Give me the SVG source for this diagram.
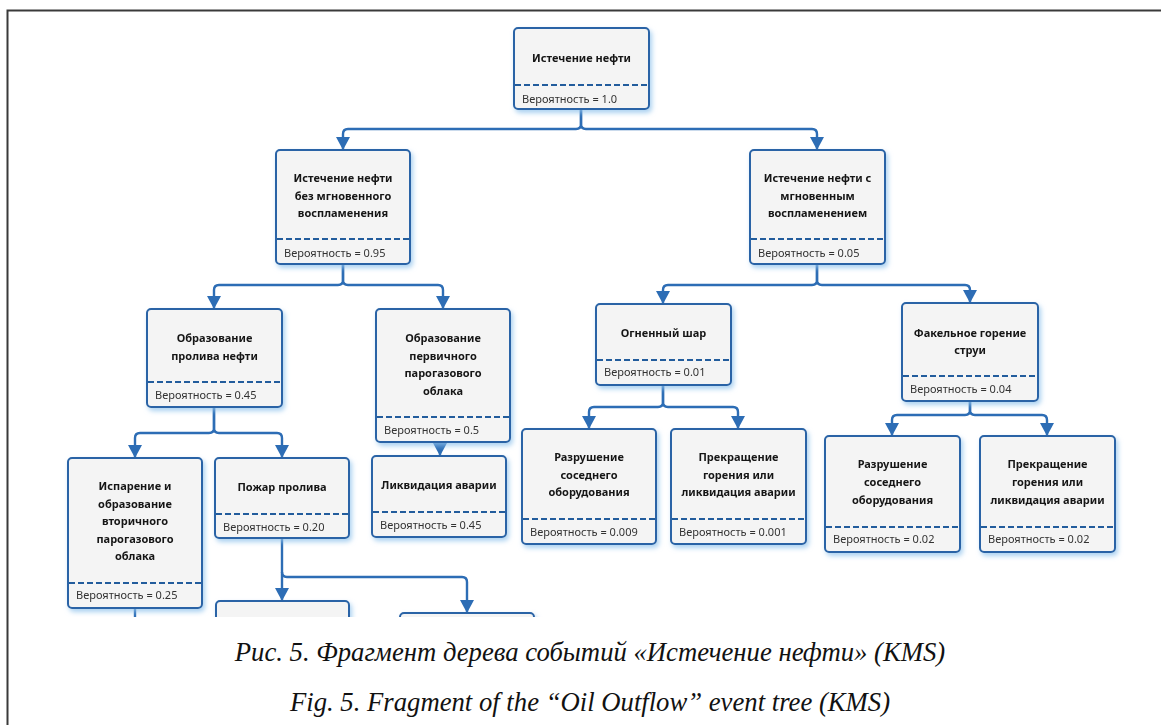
<svg xmlns="http://www.w3.org/2000/svg" width="1161" height="725" viewBox="0 0 1161 725">
<style>
.box{fill:#f4f4f4;stroke:#2a64a6;stroke-width:2}
.dash{stroke:#245c9c;stroke-width:1.8;stroke-dasharray:6 3;fill:none}
.t{font-family:"Noto Sans","Open Sans",sans-serif;font-weight:bold;font-size:11px;fill:#151515;text-anchor:middle}
.p{font-family:"Noto Sans","Open Sans",sans-serif;font-size:11px;fill:#333}
.c{fill:none;stroke:#2d6db5;stroke-width:2.4;stroke-linejoin:round}
.cap{font-family:"Liberation Serif",serif;font-style:italic;font-size:26.7px;fill:#111;text-anchor:middle}
</style>
<defs>
<filter id="glow" x="-20%" y="-20%" width="140%" height="150%">
<feDropShadow dx="2" dy="3" stdDeviation="2.5" flood-color="#8fc2ec" flood-opacity="0.75"/>
</filter>
<clipPath id="clip"><rect x="9" y="12" width="1152" height="605"/></clipPath>
</defs>
<rect width="1161" height="725" fill="#fff"/>
<g id="frame" fill="none" stroke="#3a3a3a" stroke-width="2">
<path d="M7.5,725 V10.5 H1161"/>
</g>
<g clip-path="url(#clip)">
<g id="connectors">
<path class="c" d="M581,109 V124 Q581,129 576,129 H348 Q343,129 343,134 V149"/>
<path class="c" d="M581,109 V124 Q581,129 586,129 H812 Q817,129 817,134 V149"/>
<path class="c" d="M343,264 V280 Q343,285 338,285 H219 Q214,285 214,290 V308"/>
<path class="c" d="M343,264 V280 Q343,285 348,285 H438 Q443,285 443,290 V308"/>
<path class="c" d="M817,264 V280 Q817,285 812,285 H668 Q663,285 663,290 V303"/>
<path class="c" d="M817,264 V280 Q817,285 822,285 H965 Q970,285 970,290 V302"/>
<path class="c" d="M214,407 V428 Q214,433 209,433 H140 Q135,433 135,438 V457"/>
<path class="c" d="M214,407 V428 Q214,433 219,433 H277 Q282,433 282,438 V457"/>
<path class="c" d="M440,442 V455"/>
<path class="c" d="M663,385 V402 Q663,407 658,407 H594 Q589,407 589,412 V428"/>
<path class="c" d="M663,385 V402 Q663,407 668,407 H733 Q738,407 738,412 V428"/>
<path class="c" d="M970,401 V410 Q970,415 965,415 H897 Q892,415 892,420 V435"/>
<path class="c" d="M970,401 V410 Q970,415 975,415 H1042 Q1047,415 1047,420 V435"/>
<path class="c" d="M282,538 V600"/>
<path class="c" d="M282,572 Q282,577 287,577 H462 Q467,577 467,582 V612"/>
<path class="c" d="M135,608 V620"/>
</g>
<g id="arrowheads" fill="#2d6db5">
<path d="M336,137 H350 L343,150 Z"/>
<path d="M810,137 H824 L817,150 Z"/>
<path d="M207,296 H221 L214,309 Z"/>
<path d="M436,296 H450 L443,309 Z"/>
<path d="M656,291 H670 L663,304 Z"/>
<path d="M963,290 H977 L970,303 Z"/>
<path d="M128,445 H142 L135,458 Z"/>
<path d="M275,445 H289 L282,458 Z"/>
<path d="M433,443 H447 L440,456 Z"/>
<path d="M582,416 H596 L589,429 Z"/>
<path d="M731,416 H745 L738,429 Z"/>
<path d="M885,423 H899 L892,436 Z"/>
<path d="M1040,423 H1054 L1047,436 Z"/>
<path d="M275,588 H289 L282,601 Z"/>
<path d="M460,600 H474 L467,613 Z"/>
</g>
<g id="n_root" filter="url(#glow)"><rect class="box" x="514" y="28" width="135" height="81" rx="4"/><line class="dash" x1="515" y1="85" x2="648" y2="85"/><text class="t" x="581.5" y="62">Истечение нефти</text><text class="p" x="522" y="103">Вероятность = 1.0</text></g>
<g id="n_nofire" filter="url(#glow)"><rect class="box" x="276" y="150" width="134" height="114" rx="4"/><line class="dash" x1="277" y1="239" x2="409" y2="239"/><text class="t" x="343" y="182">Истечение нефти</text><text class="t" x="343" y="200">без мгновенного</text><text class="t" x="343" y="217">воспламенения</text><text class="p" x="284" y="257">Вероятность = 0.95</text></g>
<g id="n_fire" filter="url(#glow)"><rect class="box" x="750" y="150" width="135" height="114" rx="4"/><line class="dash" x1="751" y1="239" x2="884" y2="239"/><text class="t" x="817.5" y="182">Истечение нефти с</text><text class="t" x="817.5" y="200">мгновенным</text><text class="t" x="817.5" y="217">воспламенением</text><text class="p" x="758" y="257">Вероятность = 0.05</text></g>
<g id="n_spill" filter="url(#glow)"><rect class="box" x="147" y="309" width="135" height="98" rx="4"/><line class="dash" x1="148" y1="382" x2="281" y2="382"/><text class="t" x="214.5" y="342">Образование</text><text class="t" x="214.5" y="360">пролива нефти</text><text class="p" x="155" y="399">Вероятность = 0.45</text></g>
<g id="n_cloud1" filter="url(#glow)"><rect class="box" x="376" y="309" width="134" height="133" rx="4"/><line class="dash" x1="377" y1="417" x2="509" y2="417"/><text class="t" x="443" y="342">Образование</text><text class="t" x="443" y="360">первичного</text><text class="t" x="443" y="377">парогазового</text><text class="t" x="443" y="395">облака</text><text class="p" x="384" y="434">Вероятность = 0.5</text></g>
<g id="n_fireball" filter="url(#glow)"><rect class="box" x="596" y="304" width="135" height="81" rx="4"/><line class="dash" x1="597" y1="360" x2="730" y2="360"/><text class="t" x="663.5" y="337">Огненный шар</text><text class="p" x="604" y="376">Вероятность = 0.01</text></g>
<g id="n_jet" filter="url(#glow)"><rect class="box" x="902" y="303" width="136" height="98" rx="4"/><line class="dash" x1="903" y1="376" x2="1037" y2="376"/><text class="t" x="970" y="337">Факельное горение</text><text class="t" x="970" y="354">струи</text><text class="p" x="910" y="393">Вероятность = 0.04</text></g>
<g id="n_evap" filter="url(#glow)"><rect class="box" x="68" y="458" width="134" height="150" rx="4"/><line class="dash" x1="69" y1="583" x2="201" y2="583"/><text class="t" x="135" y="490">Испарение и</text><text class="t" x="135" y="508">образование</text><text class="t" x="135" y="525">вторичного</text><text class="t" x="135" y="543">парогазового</text><text class="t" x="135" y="560">облака</text><text class="p" x="76" y="599">Вероятность = 0.25</text></g>
<g id="n_poolfire" filter="url(#glow)"><rect class="box" x="215" y="458" width="134" height="80" rx="4"/><line class="dash" x1="216" y1="514" x2="348" y2="514"/><text class="t" x="282" y="491">Пожар пролива</text><text class="p" x="223" y="531">Вероятность = 0.20</text></g>
<g id="n_liq" filter="url(#glow)"><rect class="box" x="372" y="456" width="134" height="81" rx="4"/><line class="dash" x1="373" y1="512" x2="505" y2="512"/><text class="t" x="439" y="489">Ликвидация аварии</text><text class="p" x="380" y="529">Вероятность = 0.45</text></g>
<g id="n_fb_dmg" filter="url(#glow)"><rect class="box" x="522" y="429" width="134" height="115" rx="4"/><line class="dash" x1="523" y1="519" x2="655" y2="519"/><text class="t" x="589" y="461">Разрушение</text><text class="t" x="589" y="479">соседнего</text><text class="t" x="589" y="496">оборудования</text><text class="p" x="530" y="536">Вероятность = 0.009</text></g>
<g id="n_fb_stop" filter="url(#glow)"><rect class="box" x="671" y="429" width="135" height="115" rx="4"/><line class="dash" x1="672" y1="519" x2="805" y2="519"/><text class="t" x="738.5" y="461">Прекращение</text><text class="t" x="738.5" y="479">горения или</text><text class="t" x="738.5" y="496">ликвидация аварии</text><text class="p" x="679" y="536">Вероятность = 0.001</text></g>
<g id="n_jet_dmg" filter="url(#glow)"><rect class="box" x="825" y="436" width="135" height="116" rx="4"/><line class="dash" x1="826" y1="527" x2="959" y2="527"/><text class="t" x="892.5" y="468">Разрушение</text><text class="t" x="892.5" y="486">соседнего</text><text class="t" x="892.5" y="504">оборудования</text><text class="p" x="833" y="543">Вероятность = 0.02</text></g>
<g id="n_jet_stop" filter="url(#glow)"><rect class="box" x="980" y="436" width="135" height="116" rx="4"/><line class="dash" x1="981" y1="527" x2="1114" y2="527"/><text class="t" x="1047.5" y="468">Прекращение</text><text class="t" x="1047.5" y="486">горения или</text><text class="t" x="1047.5" y="504">ликвидация аварии</text><text class="p" x="988" y="543">Вероятность = 0.02</text></g>
<g id="n_cut1" filter="url(#glow)"><rect class="box" x="216" y="601" width="133" height="60" rx="4"/></g>
<g id="n_cut2" filter="url(#glow)"><rect class="box" x="400" y="613" width="134" height="60" rx="4"/></g>
</g>
<g id="captions">
<text class="cap" x="590" y="661">Рис. 5. Фрагмент дерева событий «Истечение нефти» (KMS)</text>
<text class="cap" x="590" y="711">Fig. 5. Fragment of the “Oil Outflow” event tree (KMS)</text>
</g>
</svg>
